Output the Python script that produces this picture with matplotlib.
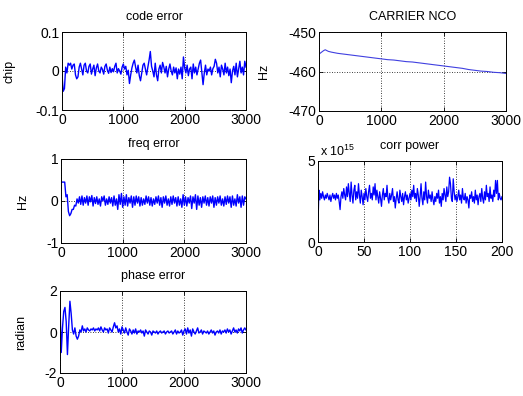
import numpy as np
import matplotlib
matplotlib.use("Agg")
import matplotlib.pyplot as plt

plt.rcParams['font.family'] = ['Liberation Sans', 'DejaVu Sans']
plt.rcParams['mathtext.fontset'] = 'custom'
plt.rcParams['mathtext.rm'] = 'Liberation Sans'
plt.rcParams['mathtext.it'] = 'Liberation Sans'
plt.rcParams['axes.unicode_minus'] = False

# ---------------- data ----------------
code_err = [-0.01, -0.052, -0.045, 0.01, -0.005, 0.02, 0.015, 0.02, 0.005, 0.015,
            0.018, -0.01, -0.02, -0.015, 0.01, 0.02, 0.005, -0.01, 0.015, 0.02,
            0.0, -0.005, 0.012, 0.018, -0.008, 0.005, 0.015, -0.012, 0.008, 0.018,
            0.0, -0.005, 0.01, 0.004, -0.008, 0.012, 0.018, 0.002, -0.006, 0.01,
            -0.004, 0.006, -0.002, 0.012, 0.02, -0.005, 0.006, 0.0, -0.008, 0.01,
            0.018, 0.005, 0.012, -0.01, 0.002, -0.032, -0.01, 0.008, 0.02, 0.028,
            0.01, -0.005, 0.015, -0.012, -0.025, -0.005, 0.015, 0.02, 0.005, -0.01,
            0.01, 0.028, 0.05, 0.012, 0.0, -0.015, 0.02, -0.01, -0.025, 0.005,
            0.015, -0.005, 0.022, 0.01, -0.005, 0.012, -0.015, 0.005, 0.018, 0.0,
            -0.01, 0.01, -0.005, 0.008, -0.02, 0.005, -0.008, 0.01, -0.02, 0.036,
            0.008, -0.005, 0.015, -0.012, 0.005, 0.01, -0.02, 0.018, -0.005, 0.01,
            -0.01, 0.005, 0.02, 0.028, -0.005, -0.035, -0.005, 0.015, -0.01, 0.005,
            0.0, 0.01, -0.01, 0.006, 0.012, 0.03, 0.02, -0.005, 0.01, -0.015,
            0.015, 0.005, -0.01, 0.02, -0.005, 0.01, -0.012, 0.005, -0.03, 0.0,
            0.012, -0.01, 0.02, -0.015, 0.005, 0.025, -0.005, 0.01, -0.01, 0.025,
            0.01]

freq_err = [0.45, 0.45, 0.45, 0.45, 0.1, 0.15, -0.25, -0.35, -0.3, -0.2,
            -0.2, -0.1, -0.12, 0.05, -0.05, 0.1, -0.08, 0.12, -0.1, 0.08,
            -0.05, 0.12, -0.1, 0.1, -0.02, 0.13, -0.12, 0.08, -0.06, 0.1,
            -0.08, 0.05, -0.12, 0.1, 0.0, 0.12, -0.1, 0.05, -0.08, 0.1,
            -0.05, 0.08, -0.12, 0.12, -0.1, 0.05, -0.2, 0.15, -0.08, 0.18,
            -0.15, 0.1, -0.1, 0.15, -0.12, 0.08, -0.05, 0.12, -0.15, 0.1,
            -0.1, 0.12, -0.05, 0.1, -0.12, 0.08, -0.1, 0.05, -0.08, 0.12,
            -0.05, 0.1, -0.1, 0.08, -0.12, 0.05, -0.08, 0.1, -0.05, 0.12,
            -0.1, 0.08, -0.15, 0.1, -0.05, 0.12, -0.1, 0.05, -0.12, 0.1,
            -0.08, 0.12, -0.05, 0.08, -0.12, 0.1, -0.1, 0.05, -0.15, 0.15,
            -0.1, 0.1, -0.12, 0.08, -0.05, 0.12, -0.18, 0.1, -0.05, 0.15,
            -0.2, 0.12, -0.1, 0.08, -0.15, 0.1, -0.05, 0.12, -0.1, 0.08,
            -0.12, 0.1, -0.05, 0.12, -0.15, 0.08, -0.1, 0.1, -0.05, 0.12,
            -0.1, 0.05, -0.12, 0.1, -0.08, 0.12, -0.05, 0.1, -0.15, 0.12,
            -0.1, 0.05, -0.12, 0.15, -0.05, 0.1, -0.15, 0.12, -0.1, 0.1,
            0.05]

phase_err = [1.3, -1.0, 0.2, 1.0, 1.2, 0.5, -1.1, 0.3, 1.5, 0.9,
             0.1, -0.1, 0.2, -0.2, -0.35, -0.2, 0.1, 0.0, 0.3, 0.05,
             0.15, 0.0, 0.2, 0.1, 0.05, 0.15, 0.1, 0.2, 0.05, 0.15,
             0.1, 0.2, 0.05, 0.25, 0.1, 0.0, 0.2, 0.1, 0.15, -0.05,
             0.2, 0.1, 0.0, 0.25, 0.45, 0.2, 0.3, 0.0, 0.15, -0.1,
             0.25, 0.1, -0.05, 0.2, 0.0, -0.15, 0.15, 0.05, -0.1, 0.1,
             -0.05, 0.15, -0.1, 0.05, 0.0, 0.1, -0.05, 0.05, -0.2, 0.1,
             0.0, -0.1, 0.05, 0.0, -0.15, 0.05, 0.0, -0.05, 0.05, -0.1,
             0.0, 0.05, -0.05, 0.0, 0.05, -0.1, 0.0, 0.05, -0.05, 0.0,
             0.05, -0.1, 0.0, 0.1, -0.1, 0.05, -0.05, 0.0, 0.1, -0.15,
             0.05, 0.15, -0.1, 0.2, -0.05, 0.1, -0.2, 0.15, 0.0, -0.1,
             0.05, 0.2, -0.05, 0.0, 0.1, -0.1, 0.05, 0.0, -0.05, 0.05,
             -0.1, 0.0, 0.1, -0.05, 0.05, -0.15, 0.0, 0.05, -0.05, 0.1,
             -0.1, 0.05, 0.0, 0.1, -0.05, 0.15, 0.0, 0.1, -0.1, 0.05,
             0.2, 0.0, 0.1, -0.05, 0.15, 0.05, 0.2, -0.05, 0.1, 0.2,
             0.1]

nco_x = [0, 25, 50, 75, 100, 125, 150, 200, 300, 400, 500, 600, 700, 800, 900,
         1000, 1100, 1200, 1300, 1400, 1500, 1600, 1700, 1800, 1900, 2000,
         2100, 2200, 2300, 2400, 2500, 2600, 2700, 2800, 2900, 3000]
nco_val = [-455.6, -455.3, -455.0, -454.7, -454.5, -454.7, -454.9, -455.1,
           -455.4, -455.6, -455.8, -456.0, -456.2, -456.4, -456.6, -456.8,
           -457.0, -457.1, -457.3, -457.5, -457.6, -457.8, -458.0, -458.2,
           -458.4, -458.6, -458.8, -459.0, -459.2, -459.5, -459.7, -459.9,
           -460.0, -460.2, -460.3, -460.5]

corr_pow = [1.0, 3.2, 2.6, 3.0, 2.7, 3.1, 2.8, 2.6, 2.9, 2.7, 3.0, 2.8, 2.6, 2.9, 2.5, 2.8, 3.0, 2.7, 2.9, 2.6,
            3.0, 2.7, 2.9, 2.5, 2.0, 2.8, 3.1, 2.7, 3.3, 2.9, 2.6, 3.4, 2.8, 3.6, 3.0, 2.5, 3.7, 2.9, 2.4, 3.2,
            3.5, 2.6, 3.1, 2.7, 3.6, 2.9, 2.4, 3.2, 2.8, 2.3, 3.0, 2.6, 3.3, 2.8, 2.5, 3.1, 3.5, 2.7, 3.0, 2.6,
            3.4, 2.9, 3.6, 2.6, 3.2, 2.8, 2.4, 3.1, 2.7, 2.2, 2.9, 3.3, 2.6, 3.0, 2.8, 3.5, 2.7, 2.4, 3.0, 2.6,
            2.9, 3.3, 2.5, 2.8, 2.1, 2.7, 3.1, 2.6, 2.4, 3.2, 2.8, 2.5, 3.0, 2.3, 2.8, 3.1, 2.6, 2.9, 2.4, 2.7,
            3.0, 2.6, 3.2, 2.8, 3.5, 2.7, 3.0, 2.5, 3.3, 2.9, 2.2, 2.8, 3.6, 2.7, 2.3, 3.1, 2.6, 3.7, 2.8, 2.4,
            3.2, 2.7, 2.9, 2.5, 3.1, 2.6, 2.3, 2.8, 2.5, 3.0, 2.7, 3.2, 2.4, 2.8, 2.2, 3.0, 2.6, 3.3, 2.9, 2.5,
            3.4, 2.8, 3.1, 4.0, 3.6, 2.7, 2.5, 3.9, 3.1, 2.6, 2.9, 2.5, 2.8, 3.2, 2.6, 2.9, 2.4, 3.3, 2.7, 2.6,
            3.0, 2.4, 2.8, 2.6, 2.1, 2.9, 2.7, 3.1, 2.5, 2.8, 2.4, 3.2, 2.6, 2.9, 2.3, 2.8, 3.0, 2.5, 3.3, 2.7,
            2.4, 3.1, 2.6, 3.5, 2.8, 3.0, 2.5, 3.4, 2.7, 2.9, 2.5, 3.2, 2.8, 3.8, 3.0, 3.8, 2.6, 3.0, 2.7, 2.6,
            2.8]

# ---------------- figure ----------------
W, H = 523, 396
fig = plt.figure(figsize=(W / 100, H / 100), dpi=100)


def make_ax(l, r, t, b):
    return fig.add_axes([l / W, 1 - b / H, (r - l) / W, (b - t) / H])


FS = 9
TFS = 10
BLUE = '#0000ff'


def style(ax, title, ylabel, xlim, ylim, yticks, xticks, ylx):
    ax.set_xlim(*xlim)
    ax.set_ylim(*ylim)
    ax.set_xticks(xticks)
    ax.set_yticks(yticks)
    ax.tick_params(direction='in', length=3, width=0.6, labelsize=TFS,
                   top=True, right=True, pad=2)
    for s in ax.spines.values():
        s.set_linewidth(0.7)
    ax.grid(True, linestyle=(0, (1, 2)), color='black', linewidth=0.6)
    ax.set_axisbelow(True)
    ax.set_title(title, fontsize=FS, pad=9)
    if ylabel:
        ax.set_ylabel(ylabel, fontsize=FS)
        ax.yaxis.set_label_coords(ylx, 0.5)


x3k = np.linspace(0, 3000, len(code_err))

ax1 = make_ax(62, 246, 32, 110)
ax1.plot(x3k, code_err, color=BLUE, lw=1.0)
style(ax1, 'code error', 'chip', (0, 3000), (-0.1, 0.1), [-0.1, 0, 0.1],
      [0, 1000, 2000, 3000], -0.255)
ax1.set_yticklabels(['-0.1', '0', '0.1'])

ax2 = make_ax(319, 506, 32, 111)
ax2.plot(nco_x, nco_val, color='#4040e0', lw=0.8)
style(ax2, 'CARRIER NCO', 'Hz', (0, 3000), (-470, -450), [-470, -460, -450],
      [0, 1000, 2000, 3000], -0.26)

ax3 = make_ax(61, 246, 159, 243)
ax3.plot(np.linspace(0, 3000, len(freq_err)), freq_err, color=BLUE, lw=1.0)
style(ax3, 'freq error', 'Hz', (0, 3000), (-1, 1), [-1, 0, 1],
      [0, 1000, 2000, 3000], -0.175)

ax4 = make_ax(318, 502, 161, 242)
ax4.plot(np.arange(len(corr_pow)), corr_pow, color=BLUE, lw=0.9)
style(ax4, 'corr power', None, (0, 200), (0, 5), [0, 5],
      [0, 50, 100, 150, 200], 0)
ax4.text(0.01, 1.03, r'x 10$^{15}$', transform=ax4.transAxes, fontsize=FS,
         ha='left', va='bottom')

ax5 = make_ax(60, 246, 291, 373)
ax5.plot(np.linspace(0, 3000, len(phase_err)), phase_err, color=BLUE, lw=1.0)
style(ax5, 'phase error', 'radian', (0, 3000), (-2, 2), [-2, 0, 2],
      [0, 1000, 2000, 3000], -0.175)

fig.savefig('out.png', dpi=100)
